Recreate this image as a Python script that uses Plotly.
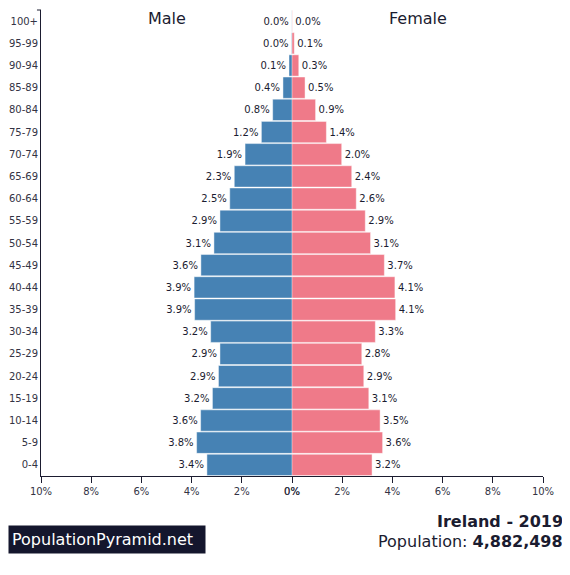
import plotly.graph_objects as go

# age groups, bottom to top
ages = ["0-4", "5-9", "10-14", "15-19", "20-24", "25-29", "30-34", "35-39",
        "40-44", "45-49", "50-54", "55-59", "60-64", "65-69", "70-74",
        "75-79", "80-84", "85-89", "90-94", "95-99", "100+"]

# share of total population, in percent
male = [3.39, 3.80, 3.64, 3.17, 2.93, 2.87, 3.24, 3.88, 3.90, 3.63, 3.11,
        2.87, 2.48, 2.30, 1.87, 1.22, 0.77, 0.36, 0.12, 0.02, 0.005]
female = [3.19, 3.61, 3.51, 3.06, 2.86, 2.78, 3.32, 4.13, 4.10, 3.68, 3.13,
          2.92, 2.56, 2.38, 1.98, 1.37, 0.94, 0.52, 0.27, 0.09, 0.01]

ticks = [0, 2, 4, 6, 8, 10]
tick_text = [str(t) + "%" for t in ticks]

country = "Ireland"
year = 2019
population = "4,882,498"

dark = "#1b1c30"
font = "DejaVu Sans"

fig = go.Figure()
fig.add_trace(go.Bar(
    y=ages, x=male, orientation="h", name="Male",
    marker=dict(color="#4682b4", line=dict(color="rgba(255,255,255,0.45)", width=1)),
    texttemplate="%{x:.1f}%", textposition="outside", cliponaxis=False,
    textfont=dict(size=10, color=dark, family=font),
    xaxis="x", yaxis="y", hoverinfo="skip",
))
fig.add_trace(go.Bar(
    y=ages, x=female, orientation="h", name="Female",
    marker=dict(color="#ef7a89", line=dict(color="rgba(255,255,255,0.45)", width=1)),
    texttemplate="%{x:.1f}%", textposition="outside", cliponaxis=False,
    textfont=dict(size=10, color=dark, family=font),
    xaxis="x2", yaxis="y", hoverinfo="skip",
))

axis_common = dict(
    showline=True, linecolor=dark, linewidth=1, ticks="outside", ticklen=6,
    tickcolor=dark, tickvals=ticks, ticktext=tick_text, showgrid=False,
    zeroline=False, tickfont=dict(size=10, color="#333344", family=font),
    fixedrange=True,
)

# the page body adds an 8px margin, so the figure is a bit smaller than the window
fig.update_layout(
    width=562, height=559,
    margin=dict(l=33, r=27, t=2, b=91),
    paper_bgcolor="white", plot_bgcolor="white",
    showlegend=False, bargap=0.04,
    font=dict(family=font, color=dark),
    xaxis=dict(domain=[0, 0.5], range=[10, 0], anchor="y", **axis_common),
    xaxis2=dict(domain=[0.5, 1], range=[0, 10], anchor="y", **axis_common),
    yaxis=dict(anchor="x", showline=True, linecolor=dark, linewidth=1,
               ticks="", showgrid=False, zeroline=False,
               tickfont=dict(size=10, color="#333344", family=font),
               categoryorder="array", categoryarray=ages, fixedrange=True),
)

fig.add_shape(type="line", xref="paper", yref="paper", x0=-0.008, x1=0, y0=1, y1=1,
              line=dict(color=dark, width=1))

for label, xpos in [("Male", 0.25), ("Female", 0.75)]:
    fig.add_annotation(text=label, x=xpos, y=1, xref="paper", yref="paper",
                       xanchor="center", yanchor="top", yshift=3, showarrow=False,
                       font=dict(size=16, color=dark, family=font))

fig.add_annotation(text="PopulationPyramid.net", x=-0.0657, y=-0.1363,
                   xref="paper", yref="paper", xanchor="left", yanchor="middle",
                   showarrow=False, align="left", width=190, height=21,
                   borderpad=3, bgcolor="#14162d",
                   font=dict(size=16, color="white", family=font))
fig.add_annotation(text="<b>%s - %d</b>" % (country, year),
                   x=1.0438, y=-0.0987, xref="paper", yref="paper",
                   xanchor="right", yanchor="middle", align="right", showarrow=False,
                   font=dict(size=16, color=dark, family=font))
fig.add_annotation(text="Population: <b>%s</b>" % population,
                   x=1.0438, y=-0.1395, xref="paper", yref="paper",
                   xanchor="right", yanchor="middle", align="right", showarrow=False,
                   font=dict(size=16, color=dark, family=font))

fig.write_html("out.html")
